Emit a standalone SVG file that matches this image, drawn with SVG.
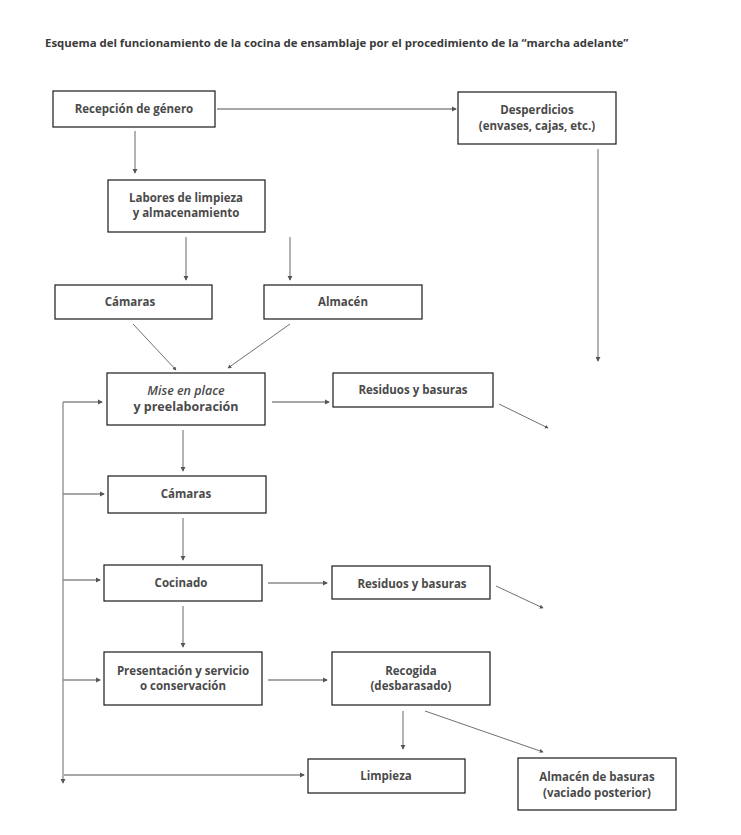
<svg xmlns="http://www.w3.org/2000/svg" width="741" height="835" viewBox="0 0 741 835">
<style>
  .box { fill: #fff; stroke: #1a1a1a; stroke-width: 1.2; }
  .t { font-family: "Open Sans", "Liberation Sans", sans-serif; font-weight: 700; font-size: 11.5px; fill: #4a4a4a; text-anchor: middle; }
  .title { font-family: "Open Sans", "Liberation Sans", sans-serif; font-weight: 700; font-size: 11.4px; fill: #3a3a3a; }
  .c { fill: none; stroke: #8a8a8a; stroke-width: 1.3; marker-end: url(#ah); }
  .d { fill: none; stroke: #707070; stroke-width: 1; marker-end: url(#ah); }
</style>
<defs>
  <marker id="ah" viewBox="0 0 6 6" refX="5" refY="3" markerWidth="4" markerHeight="4" orient="auto" markerUnits="strokeWidth">
    <path d="M0,0 L6,3 L0,6 z" fill="#555"/>
  </marker>
</defs>
<rect width="741" height="835" fill="#fff"/>
<text class="title" x="45" y="47">Esquema del funcionamiento de la cocina de ensamblaje por el procedimiento de la “marcha adelante”</text>

<g id="connectors">
  <line class="c" x1="217" y1="109" x2="456" y2="109"/>
  <line class="c" x1="135" y1="131" x2="135" y2="173"/>
  <line class="c" x1="598" y1="149" x2="598" y2="361"/>
  <line class="c" x1="186" y1="237" x2="186" y2="280"/>
  <line class="c" x1="290" y1="237" x2="290" y2="280"/>
  <line class="d" x1="133" y1="324" x2="176" y2="370"/>
  <line class="d" x1="290" y1="324" x2="228" y2="368"/>
  <line class="c" x1="272" y1="402" x2="329" y2="402"/>
  <line class="d" x1="499" y1="404" x2="548" y2="428"/>
  <line class="c" x1="183" y1="430" x2="183" y2="471"/>
  <line class="c" x1="183" y1="518" x2="183" y2="560"/>
  <line class="c" x1="268" y1="583" x2="327" y2="583"/>
  <line class="d" x1="496" y1="586" x2="543" y2="608"/>
  <line class="c" x1="183" y1="606" x2="183" y2="647"/>
  <line class="c" x1="268" y1="680" x2="327" y2="680"/>
  <line class="c" x1="403" y1="711" x2="403" y2="749"/>
  <line class="d" x1="425" y1="711" x2="543" y2="752"/>
  <line class="c" x1="63" y1="402" x2="63" y2="783"/>
  <line class="c" x1="63" y1="402" x2="102" y2="402"/>
  <line class="c" x1="63" y1="494" x2="104" y2="494"/>
  <line class="c" x1="63" y1="580" x2="100" y2="580"/>
  <line class="c" x1="63" y1="680" x2="100" y2="680"/>
  <line class="c" x1="64" y1="775" x2="304" y2="775"/>
</g>

<g id="recepcion"><rect class="box" x="53" y="91" width="162" height="36"/><text class="t" x="134" y="113">Recepción de género</text></g>
<g id="desperdicios"><rect class="box" x="458" y="92" width="158" height="52"/><text class="t" x="537" y="114">Desperdicios</text><text class="t" x="537" y="130">(envases, cajas, etc.)</text></g>
<g id="labores"><rect class="box" x="108" y="180" width="157" height="52"/><text class="t" x="186" y="202">Labores de limpieza</text><text class="t" x="186" y="217">y almacenamiento</text></g>
<g id="camaras1"><rect class="box" x="55" y="285" width="157" height="34"/><text class="t" x="130" y="306">Cámaras</text></g>
<g id="almacen"><rect class="box" x="264" y="285" width="158" height="34"/><text class="t" x="343" y="306">Almacén</text></g>
<g id="mise"><rect class="box" x="107" y="373" width="158" height="52"/><text class="t" x="186" y="395" style="font-style:italic;font-weight:600;font-size:12.5px">Mise en place</text><text class="t" x="186" y="411" style="font-size:12.5px">y preelaboración</text></g>
<g id="residuos1"><rect class="box" x="333" y="373" width="160" height="34"/><text class="t" x="413" y="394">Residuos y basuras</text></g>
<g id="camaras2"><rect class="box" x="108" y="476" width="158" height="37"/><text class="t" x="186" y="498">Cámaras</text></g>
<g id="cocinado"><rect class="box" x="104" y="565" width="158" height="36"/><text class="t" x="181" y="587">Cocinado</text></g>
<g id="residuos2"><rect class="box" x="332" y="566" width="158" height="33"/><text class="t" x="412" y="588">Residuos y basuras</text></g>
<g id="presentacion"><rect class="box" x="104" y="652" width="158" height="53"/><text class="t" x="183" y="675">Presentación y servicio</text><text class="t" x="183" y="690">o conservación</text></g>
<g id="recogida"><rect class="box" x="332" y="652" width="158" height="53"/><text class="t" x="411" y="675">Recogida</text><text class="t" x="411" y="690">(desbarasado)</text></g>
<g id="limpieza"><rect class="box" x="308" y="759" width="157" height="34"/><text class="t" x="386" y="780">Limpieza</text></g>
<g id="almacen-basuras"><rect class="box" x="518" y="758" width="158" height="52"/><text class="t" x="597" y="781">Almacén de basuras</text><text class="t" x="597" y="797">(vaciado posterior)</text></g>
</svg>
